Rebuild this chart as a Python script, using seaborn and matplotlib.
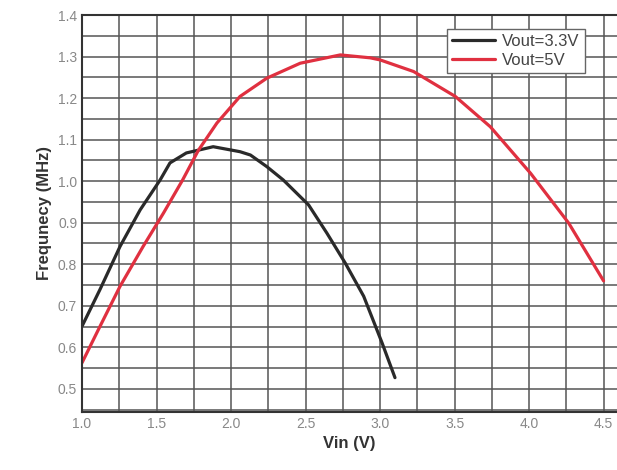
import numpy as np
import pandas as pd
import matplotlib.pyplot as plt
import seaborn as sns
from matplotlib.ticker import MultipleLocator

# --- Data ---
vin_33 = [1.0, 1.12, 1.255, 1.39, 1.524, 1.59, 1.70, 1.88, 2.06, 2.13, 2.24,
          2.35, 2.52, 2.643, 2.766, 2.89, 3.013, 3.10]
freq_33 = [0.651, 0.739, 0.843, 0.931, 1.003, 1.044, 1.068, 1.083, 1.071, 1.063, 1.035,
           1.003, 0.943, 0.875, 0.803, 0.723, 0.611, 0.527]

vin_5 = [1.0, 1.11, 1.255, 1.41, 1.546, 1.675, 1.78, 1.905, 2.06, 2.24, 2.464,
         2.733, 2.934, 3.0, 3.225, 3.505, 3.74, 4.01, 4.266, 4.5]
freq_5 = [0.563, 0.643, 0.747, 0.843, 0.923, 1.003, 1.074, 1.14, 1.204, 1.248, 1.284,
          1.304, 1.297, 1.292, 1.264, 1.204, 1.131, 1.019, 0.899, 0.760]

labels = ['Vout=3.3V', 'Vout=5V']

df = pd.concat([
    pd.DataFrame({'Vin': vin_33, 'Freq': freq_33, 'series': labels[0]}),
    pd.DataFrame({'Vin': vin_5, 'Freq': freq_5, 'series': labels[1]}),
])

sns.set_style("white")
plt.rcParams['font.family'] = ['Liberation Sans', 'DejaVu Sans']

fig = plt.figure(figsize=(6.17, 4.70), dpi=100)
ax = fig.add_axes([0.133, 0.124, 0.867, 0.844])

sns.lineplot(data=df, x='Vin', y='Freq', hue='series', sort=False,
             palette={labels[0]: '#2a2a2a', labels[1]: '#e03040'},
             linewidth=2.3, ax=ax)

ax.set_xlim(1.0, 4.59)
ax.set_ylim(0.445, 1.4)
ax.xaxis.set_major_locator(MultipleLocator(0.5))
ax.xaxis.set_minor_locator(MultipleLocator(0.25))
ax.yaxis.set_major_locator(MultipleLocator(0.1))
ax.yaxis.set_minor_locator(MultipleLocator(0.05))
ax.xaxis.set_major_formatter(plt.FormatStrFormatter('%.1f'))
ax.yaxis.set_major_formatter(plt.FormatStrFormatter('%.1f'))

ax.grid(True, which='both', color='#555555', linewidth=1.1)
ax.set_axisbelow(True)

ax.tick_params(axis='both', which='major', direction='in', length=6, width=1.2,
               labelsize=10, labelcolor='#888888', color='#555555')
ax.tick_params(axis='both', which='minor', direction='in', length=3, width=1.0,
               color='#555555')

for side in ['left', 'bottom', 'top']:
    ax.spines[side].set_color('#333333')
    ax.spines[side].set_linewidth(1.5)
ax.spines['right'].set_visible(False)

ax.set_xlabel('Vin (V)', fontsize=12, fontweight='bold', color='#333333')
ax.set_ylabel('Frequnecy (MHz)', fontsize=12, fontweight='bold', color='#333333')

leg = ax.legend(loc='upper right', bbox_to_anchor=(0.955, 0.985), fontsize=12,
                frameon=True, fancybox=False, handlelength=2.6,
                borderpad=0.3, labelspacing=0.2, handletextpad=0.4)
leg.get_frame().set_edgecolor('#666666')
leg.get_frame().set_linewidth(1.0)
leg.get_frame().set_alpha(1.0)
for t in leg.get_texts():
    t.set_color('#444444')

fig.savefig('out.png', dpi=100)
